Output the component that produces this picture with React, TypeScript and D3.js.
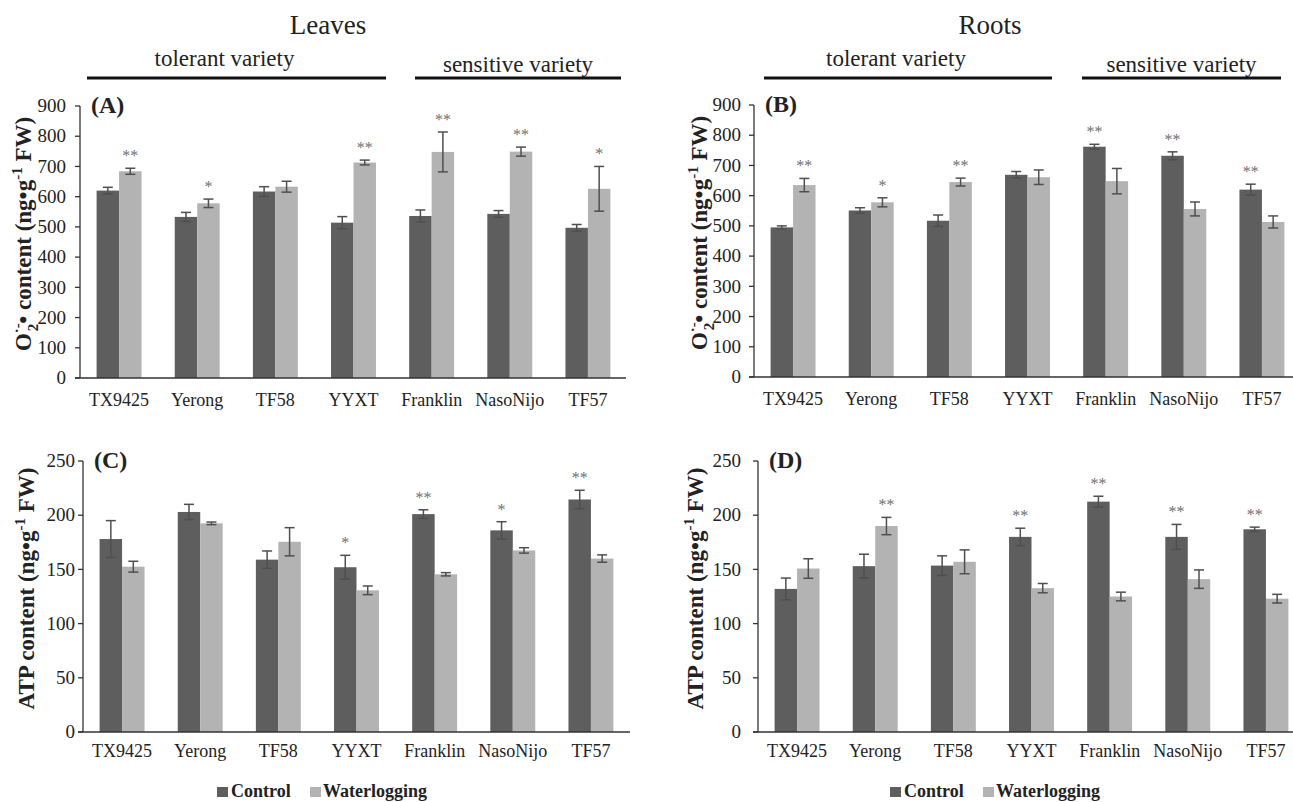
import React from 'react';
import * as d3 from 'd3';

const categories = ['TX9425', 'Yerong', 'TF58', 'YYXT', 'Franklin', 'NasoNijo', 'TF57'];
const seriesNames = ['Control', 'Waterlogging'];

// (A) Leaves superoxide
const leavesO2Control = [620, 533, 617, 514, 536, 543, 497];
const leavesO2ControlErr = [11, 15, 16, 20, 20, 11, 11];
const leavesO2Water = [684, 578, 633, 713, 748, 749, 626];
const leavesO2WaterErr = [10, 14, 18, 8, 66, 15, 74];
const leavesO2ControlSig = ['', '', '', '', '', '', ''];
const leavesO2WaterSig = ['**', '*', '', '**', '**', '**', '*'];

// (B) Roots superoxide
const rootsO2Control = [495, 551, 517, 669, 762, 732, 620];
const rootsO2ControlErr = [5, 9, 19, 11, 8, 13, 18];
const rootsO2Water = [635, 578, 645, 661, 648, 556, 513];
const rootsO2WaterErr = [22, 15, 13, 24, 42, 23, 20];
const rootsO2ControlSig = ['', '', '', '', '**', '**', '**'];
const rootsO2WaterSig = ['**', '*', '**', '', '', '', ''];

// (C) Leaves ATP
const leavesATPControl = [178, 203, 159, 152, 201, 186, 214.5];
const leavesATPControlErr = [17, 7, 8, 11, 4, 8, 8.5];
const leavesATPWater = [152.5, 192.5, 175.5, 130.7, 145.5, 167.5, 160];
const leavesATPWaterErr = [5, 1.2, 13, 4, 1.5, 2.5, 3.4];
const leavesATPControlSig = ['', '', '', '*', '**', '*', '**'];
const leavesATPWaterSig = ['', '', '', '', '', '', ''];

// (D) Roots ATP
const rootsATPControl = [132, 153, 153.5, 180, 212.5, 180, 187];
const rootsATPControlErr = [10, 11, 9, 8, 5, 11.5, 2];
const rootsATPWater = [150.8, 190, 157, 132.7, 125, 141, 123];
const rootsATPWaterErr = [9, 8, 11, 4.3, 4, 8.5, 4];
const rootsATPControlSig = ['', '', '', '**', '**', '**', '**'];
const rootsATPWaterSig = ['', '**', '', '', '', '', ''];

const o2Ticks = [0, 100, 200, 300, 400, 500, 600, 700, 800, 900];
const atpTicks = [0, 50, 100, 150, 200, 250];

const COLORS = ['#5e5e5e', '#b3b3b3'];
const FONT = '"Liberation Serif", "Times New Roman", serif';

type PanelProps = {
  letter: string;
  x0: number; x1: number; lineEnd: number;
  yTop: number; yBottom: number;
  labelRight: number;
  ticks: number[];
  control: number[]; controlErr: number[]; water: number[]; waterErr: number[];
  controlSig: string[]; waterSig: string[];
  kind: 'o2' | 'atp';
  titleX: number;
  xLabelOffset: number;
};

function Panel(p: PanelProps) {
  const yMax = p.ticks[p.ticks.length - 1];
  const y = d3.scaleLinear().domain([0, yMax]).range([p.yBottom, p.yTop]);
  const x = d3.scaleBand<string>().domain(categories).range([p.x0, p.x1]).paddingInner(0.425).paddingOuter(0.2125);
  const xs = d3.scaleBand<string>().domain(seriesNames).range([0, x.bandwidth()]);
  const series = [
    { name: seriesNames[0], v: p.control, e: p.controlErr, s: p.controlSig, c: COLORS[0] },
    { name: seriesNames[1], v: p.water, e: p.waterErr, s: p.waterSig, c: COLORS[1] },
  ];
  const midY = (p.yTop + p.yBottom) / 2;
  return (
    <g fontFamily={FONT}>
      {series.map((s) =>
        categories.map((cat, i) => {
          const bx = (x(cat) as number) + (xs(s.name) as number);
          const bw = xs.bandwidth();
          const cx = bx + bw / 2;
          const top = y(s.v[i] + s.e[i]);
          const bot = y(s.v[i] - s.e[i]);
          return (
            <g key={s.name + cat}>
              <rect x={bx} y={y(s.v[i])} width={bw} height={y(0) - y(s.v[i])} fill={s.c} />
              <line x1={cx} x2={cx} y1={top} y2={bot} stroke="#4f4f4f" strokeWidth={1.5} />
              <line x1={cx - 5} x2={cx + 5} y1={top} y2={top} stroke="#4f4f4f" strokeWidth={1.5} />
              <line x1={cx - 5} x2={cx + 5} y1={bot} y2={bot} stroke="#4f4f4f" strokeWidth={1.5} />
              {s.s[i] ? (
                <text x={cx} y={top - 7} textAnchor="middle" fontSize={16} fill="#707070">{s.s[i]}</text>
              ) : null}
            </g>
          );
        })
      )}
      {/* axes */}
      <line x1={p.x0} x2={p.x0} y1={p.yTop} y2={p.yBottom} stroke="#333" strokeWidth={1.3} />
      <line x1={p.x0 - 5} x2={p.lineEnd} y1={p.yBottom} y2={p.yBottom} stroke="#333" strokeWidth={1.3} />
      {p.ticks.map((t) => (
        <g key={t}>
          <line x1={p.x0 - 5} x2={p.x0} y1={y(t)} y2={y(t)} stroke="#333" strokeWidth={1.3} />
          <text x={p.labelRight} y={y(t)} dy="0.33em" textAnchor="end" fontSize={19} fill="#222">{t}</text>
        </g>
      ))}
      {categories.map((cat) => (
        <text key={cat} x={(x(cat) as number) + x.bandwidth() / 2} y={p.yBottom + p.xLabelOffset} textAnchor="middle" fontSize={18} fill="#222">{cat}</text>
      ))}
      <text x={p.x0 + 11} y={p.yTop + 7} fontSize={24} fontWeight="bold" fill="#222">({p.letter})</text>
      <g transform={`translate(${p.titleX},${midY - 8}) rotate(-90)`}>
        {p.kind === 'o2' ? (
          <text textAnchor="middle" fontSize={23} fontWeight="bold" fill="#222">
            O<tspan fontSize={15} dy={-9}>·-</tspan><tspan fontSize={15} dx={-8} dy={16}>2</tspan><tspan dy={-7}>• content (ng•g</tspan><tspan fontSize={15} dy={-9}>-1</tspan><tspan dy={9}> FW)</tspan>
          </text>
        ) : (
          <text textAnchor="middle" fontSize={23} fontWeight="bold" fill="#222">
            ATP content (ng•g<tspan fontSize={15} dy={-9}>-1</tspan><tspan dy={9}> FW)</tspan>
          </text>
        )}
      </g>
    </g>
  );
}

function Legend({ x }: { x: number }) {
  return (
    <g fontFamily={FONT} fontWeight="bold" fontSize={18} fill="#222">
      <rect x={x} y={787} width={11} height={10} fill={COLORS[0]} />
      <text x={x + 14} y={797}>{seriesNames[0]}</text>
      <rect x={x + 93} y={787} width={11} height={10} fill={COLORS[1]} />
      <text x={x + 106} y={797}>{seriesNames[1]}</text>
    </g>
  );
}

function Header({ title, cx, tolX0, tolX1, senX0, senX1 }: { title: string; cx: number; tolX0: number; tolX1: number; senX0: number; senX1: number }) {
  return (
    <g fontFamily={FONT} fill="#222">
      <text x={cx} y={34} textAnchor="middle" fontSize={27}>{title}</text>
      <text x={(tolX0 + tolX1) / 2 - 12} y={66} textAnchor="middle" fontSize={23}>tolerant variety</text>
      <line x1={tolX0} x2={tolX1} y1={78} y2={78} stroke="#111" strokeWidth={3} />
      <text x={(senX0 + senX1) / 2} y={72} textAnchor="middle" fontSize={23}>sensitive variety</text>
      <line x1={senX0} x2={senX1} y1={78} y2={78} stroke="#111" strokeWidth={3} />
    </g>
  );
}

export default function App() {
  return (
    <svg width={1293} height={802} style={{ position: 'absolute', left: 0, top: 0, background: '#fff' }}>
      <rect width={1293} height={802} fill="#fff" />
      <Header title="Leaves" cx={328} tolX0={87} tolX1={386} senX0={415} senX1={621} />
      <Header title="Roots" cx={990} tolX0={764} tolX1={1052} senX0={1082} senX1={1281} />
      <Panel letter="A" x0={80} x1={627} lineEnd={626} yTop={106} yBottom={378} labelRight={66} ticks={o2Ticks}
        control={leavesO2Control} controlErr={leavesO2ControlErr} water={leavesO2Water} waterErr={leavesO2WaterErr}
        controlSig={leavesO2ControlSig} waterSig={leavesO2WaterSig} kind="o2" titleX={31} xLabelOffset={28} />
      <Panel letter="B" x0={754} x1={1301} lineEnd={1293} yTop={105} yBottom={377} labelRight={741} ticks={o2Ticks}
        control={rootsO2Control} controlErr={rootsO2ControlErr} water={rootsO2Water} waterErr={rootsO2WaterErr}
        controlSig={rootsO2ControlSig} waterSig={rootsO2WaterSig} kind="o2" titleX={707} xLabelOffset={28} />
      <Panel letter="C" x0={83} x1={630} lineEnd={630} yTop={461} yBottom={732} labelRight={75} ticks={atpTicks}
        control={leavesATPControl} controlErr={leavesATPControlErr} water={leavesATPWater} waterErr={leavesATPWaterErr}
        controlSig={leavesATPControlSig} waterSig={leavesATPWaterSig} kind="atp" titleX={34} xLabelOffset={25} />
      <Panel letter="D" x0={758} x1={1305} lineEnd={1293} yTop={461} yBottom={732} labelRight={741} ticks={atpTicks}
        control={rootsATPControl} controlErr={rootsATPControlErr} water={rootsATPWater} waterErr={rootsATPWaterErr}
        controlSig={rootsATPControlSig} waterSig={rootsATPWaterSig} kind="atp" titleX={703} xLabelOffset={25} />
      <Legend x={217} />
      <Legend x={890} />
    </svg>
  );
}
